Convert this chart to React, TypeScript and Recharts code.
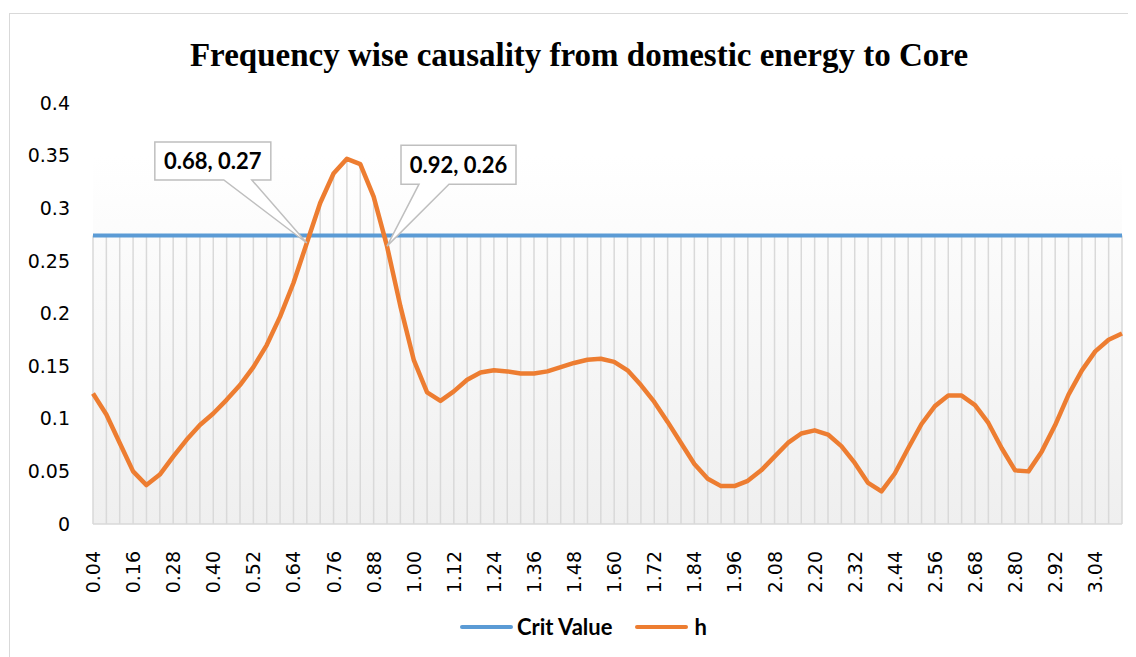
import React from "react";
import {
  Line,
  LineChart,
  ReferenceArea,
  ReferenceDot,
  ReferenceLine,
  XAxis,
  YAxis,
} from "recharts";

// frequency categories (0.04 .. 3.12)
const freq = [
  "0.04", "0.08", "0.12", "0.16", "0.20", "0.24", "0.28", "0.32", "0.36", "0.40",
  "0.44", "0.48", "0.52", "0.56", "0.60", "0.64", "0.68", "0.72", "0.76", "0.80",
  "0.84", "0.88", "0.92", "0.96", "1.00", "1.04", "1.08", "1.12", "1.16", "1.20",
  "1.24", "1.28", "1.32", "1.36", "1.40", "1.44", "1.48", "1.52", "1.56", "1.60",
  "1.64", "1.68", "1.72", "1.76", "1.80", "1.84", "1.88", "1.92", "1.96", "2.00",
  "2.04", "2.08", "2.12", "2.16", "2.20", "2.24", "2.28", "2.32", "2.36", "2.40",
  "2.44", "2.48", "2.52", "2.56", "2.60", "2.64", "2.68", "2.72", "2.76", "2.80",
  "2.84", "2.88", "2.92", "2.96", "3.00", "3.04", "3.08", "3.12",
];

const h = [
  0.124, 0.104, 0.077, 0.050, 0.037, 0.047, 0.064, 0.080, 0.094, 0.105,
  0.118, 0.132, 0.149, 0.170, 0.197, 0.229, 0.267, 0.305, 0.333, 0.347,
  0.342, 0.311, 0.264, 0.207, 0.156, 0.125, 0.117, 0.126, 0.137, 0.144,
  0.146, 0.145, 0.143, 0.143, 0.145, 0.149, 0.153, 0.156, 0.157, 0.154,
  0.146, 0.132, 0.116, 0.097, 0.077, 0.057, 0.043, 0.036, 0.036, 0.041,
  0.051, 0.064, 0.077, 0.086, 0.089, 0.085, 0.074, 0.058, 0.039, 0.031,
  0.048, 0.072, 0.095, 0.112, 0.122, 0.122, 0.113, 0.096, 0.072, 0.051,
  0.050, 0.069, 0.094, 0.123, 0.146, 0.164, 0.175, 0.181,
];

const critValue = 0.274;

const yTicks = [0, 0.05, 0.1, 0.15, 0.2, 0.25, 0.3, 0.35, 0.4];

// points that get a callout label
const callouts = [16, 22];

const data = freq.map((f, i) => ({ freq: f, crit: critValue, h: h[i] }));

const BLUE = "#5b9bd5";
const ORANGE = "#ed7d31";
const GRID = "#d9d9d9";
const SANS = '"DejaVu Sans", Arial, sans-serif';
const LABEL = 'Lato, "Open Sans", sans-serif';

function XTick(props: any) {
  const { x, y, payload } = props;
  return (
    <text
      x={x}
      y={y + 19}
      transform={`rotate(-90, ${x}, ${y + 19})`}
      textAnchor="end"
      dominantBaseline="central"
      fontFamily={SANS}
      fontSize={19}
      fill="#000"
    >
      {payload.value}
    </text>
  );
}

function Callout(props: any) {
  const { cx, cy, side, text } = props;
  // box + pointer geometry relative to the labelled point
  const b =
    side === "left"
      ? { l: -152, r: -36, t: -101, btm: -63, w1: -55, w2: -83 }
      : { l: 14, r: 129, t: -101, btm: -62, w1: 62, w2: 32 };
  const d = `M${cx + b.l},${cy + b.t} H${cx + b.r} V${cy + b.btm} H${cx + b.w1} L${cx},${cy} L${cx + b.w2},${cy + b.btm} H${cx + b.l} Z`;
  return (
    <g>
      <path d={d} fill="#fff" stroke="#bfbfbf" strokeWidth={1.5} />
      <text
        x={cx + (b.l + b.r) / 2}
        y={cy + (b.t + b.btm) / 2}
        textAnchor="middle"
        dominantBaseline="central"
        fontFamily={LABEL}
        fontWeight={700}
        fontSize={22}
        fill="#000"
      >
        {text}
      </text>
    </g>
  );
}

function LegendBox() {
  const item = (color: string, label: string, gap: number) => (
    <div style={{ display: "flex", alignItems: "center", marginRight: 23 }}>
      <div style={{ width: 53, height: 4, background: color, borderRadius: 2, marginRight: gap }} />
      <span style={{ fontFamily: LABEL, fontWeight: 700, fontSize: 22, lineHeight: "26px", color: "#000" }}>
        {label}
      </span>
    </div>
  );
  return (
    <div style={{ position: "absolute", left: 450, top: 600, display: "flex", alignItems: "center" }}>
      {item(BLUE, "Crit Value", 4)}
      {item(ORANGE, "h", 6)}
    </div>
  );
}

export default function App() {
  return (
    <div
      style={{
        position: "relative",
        marginTop: 5,
        marginLeft: 1,
        width: 1140,
        height: 650,
        borderTop: `1px solid ${GRID}`,
        borderLeft: `1px solid ${GRID}`,
        background: "#fff",
      }}
    >
      <div
        style={{
          position: "absolute",
          left: 569,
          top: 22,
          transform: "translateX(-50%)",
          whiteSpace: "nowrap",
          fontFamily: '"Liberation Serif", "Times New Roman", serif',
          fontWeight: 700,
          fontSize: 33,
          lineHeight: "38px",
          color: "#000",
        }}
      >
        Frequency wise causality from domestic energy to Core
      </div>
      <LineChart
        width={1126}
        height={640}
        data={data}
        margin={{ top: 89, right: 14, left: 0, bottom: 50 }}
      >
        <defs>
          <linearGradient id="plotFill" x1="0" y1="0" x2="0" y2="1">
            <stop offset="0%" stopColor="#ffffff" />
            <stop offset="100%" stopColor="#efefef" />
          </linearGradient>
        </defs>
        <ReferenceArea y1={0} y2={0.35} fill="url(#plotFill)" fillOpacity={1} stroke="none" />
        {data.map((d) => (
          <ReferenceLine
            key={d.freq}
            segment={[
              { x: d.freq, y: 0 },
              { x: d.freq, y: Math.max(d.crit, d.h) },
            ]}
            stroke={GRID}
            strokeWidth={1.5}
          />
        ))}
        <XAxis
          dataKey="freq"
          interval={2}
          axisLine={{ stroke: GRID, strokeWidth: 1.5 }}
          tickLine={false}
          height={80}
          tick={<XTick />}
        />
        <YAxis
          domain={[0, 0.4]}
          ticks={yTicks}
          width={83}
          axisLine={false}
          tickLine={false}
          tickSize={0}
          tickMargin={23}
          tick={{ fontFamily: SANS, fontSize: 19, fill: "#000" }}
        />
        <Line
          dataKey="crit"
          name="Crit Value"
          stroke={BLUE}
          strokeWidth={4}
          dot={false}
          isAnimationActive={false}
        />
        <Line
          dataKey="h"
          name="h"
          stroke={ORANGE}
          strokeWidth={4.5}
          dot={false}
          strokeLinejoin="round"
          isAnimationActive={false}
        />
        {callouts.map((i, n) => (
          <ReferenceDot
            key={i}
            x={freq[i]}
            y={h[i]}
            r={0}
            shape={(p: any) => (
              <Callout {...p} side={n === 0 ? "left" : "right"} text={`${freq[i]}, ${h[i].toFixed(2)}`} />
            )}
          />
        ))}
      </LineChart>
      <LegendBox />
    </div>
  );
}
